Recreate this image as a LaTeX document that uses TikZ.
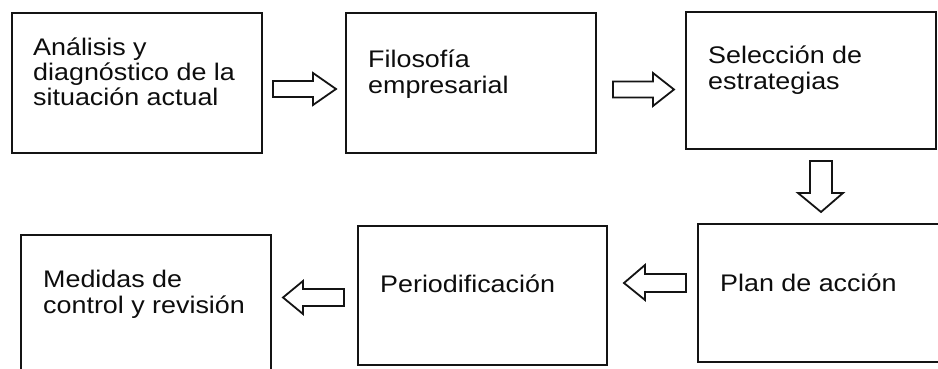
\documentclass[tikz,border=0pt]{standalone}
\usepackage{fontspec}
\setmainfont[FakeStretch=1.12]{Liberation Sans}
\begin{document}
\begin{tikzpicture}[x=1pt,y=-1pt,
  box/.style={draw=black!92, line width=2.4pt, inner sep=0pt, minimum width=250pt},
  lbl/.style={anchor=base west, align=left, inner sep=0pt, text=black!95,
    font=\fontsize{24}{25.5}\selectfont},
  blk/.style={draw=black!92, line width=1.8pt, fill=white, line join=miter}]
\useasboundingbox (0,0) rectangle (938,369);
\clip (0,0) rectangle (938,369);
% boxes
\node[box, minimum height=140pt] (b1) at (137,83) {};
\node[box, minimum height=140pt] (b2) at (471,83) {};
\node[box, minimum height=137pt] (b3) at (811,80.5) {};
\node[box, minimum height=138pt] (b4) at (823,293) {};
\node[box, minimum width=249pt, minimum height=139pt] (b5) at (482.5,295.5) {};
\node[box, minimum height=140pt] (b6) at (146,305) {};
% texts (anchor at the baseline of the last line)
\node[lbl] (t1) at (33,106) {Análisis y\\diagnóstico de la\\situación actual};
\node[lbl] (t2) at (368,93) {Filosofía\\empresarial};
\node[lbl] (t3) at (708,89) {Selección de\\estrategias};
\node[lbl] (t4) at (720,291) {Plan de acción};
\node[lbl] (t5) at (380,292) {Periodificación};
\node[lbl] (t6) at (43,313) {Medidas de\\control y revisión};
% block arrows
\draw[blk] (273,81) -- (313,81) -- (313,73) -- (336,89) -- (313,105) -- (313,97) -- (273,97) -- cycle;
\draw[blk] (613,81.5) -- (653,81.5) -- (653,73) -- (674,89.5) -- (653,106) -- (653,97.5) -- (613,97.5) -- cycle;
\draw[blk] (810,161) -- (832,161) -- (832,193) -- (843,193) -- (821,212) -- (798,193) -- (810,193) -- cycle;
\draw[blk] (686,274) -- (645,274) -- (645,265) -- (624,283) -- (645,300) -- (645,292) -- (686,292) -- cycle;
\draw[blk] (344,289) -- (303,289) -- (303,281) -- (283,297.5) -- (303,314) -- (303,306) -- (344,306) -- cycle;
\end{tikzpicture}
\end{document}
